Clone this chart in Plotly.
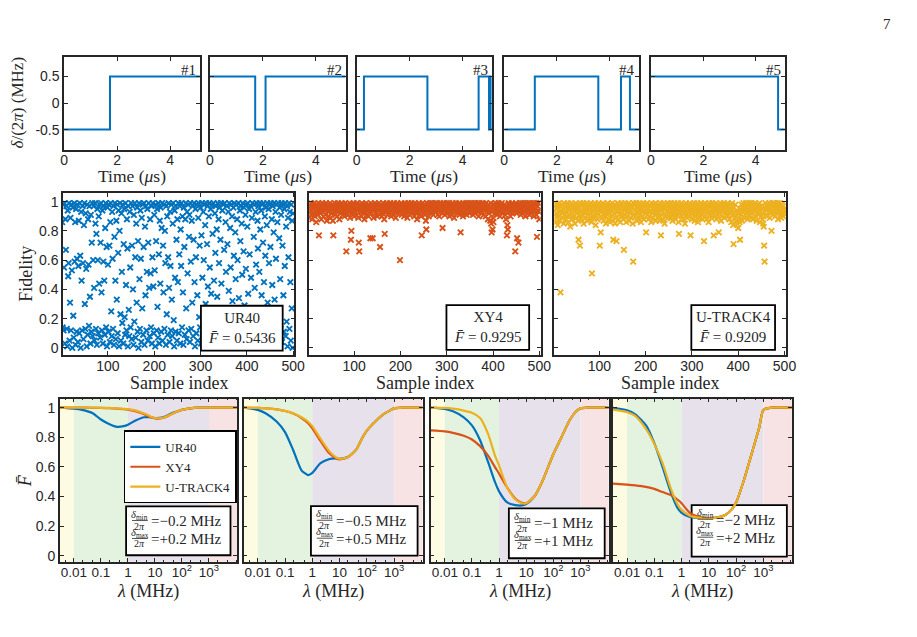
import math
import plotly.graph_objects as go

W, H = 917, 637
BLUE, ORANGE, YELLOW = "#0072BD", "#D95319", "#EDB120"
AX = "#262626"
SERIF = "Liberation Serif"
SANS = "Liberation Sans"

# ---------------- top row: detuning sequences ----------------
SEQ_T = [
    [0, 1.73, 5.12],
    [0, 1.71, 2.10, 5.12],
    [0, 0.28, 2.67, 4.60, 4.99, 5.02, 5.05, 5.12],
    [0, 1.16, 3.57, 4.43, 4.77, 5.12],
    [0, 4.86, 5.12],
]
SEQ_D = [
    [-0.5, 0.5, 0.5],
    [0.5, -0.5, 0.5, 0.5],
    [-0.5, 0.5, -0.5, 0.5, -0.5, 0.5, -0.5, -0.5],
    [-0.5, 0.5, -0.5, 0.5, -0.5, -0.5],
    [0.5, -0.5, -0.5],
]
SEQ_LABELS = ["#1", "#2", "#3", "#4", "#5"]

# ---------------- middle row: fidelity samples ----------------
F_UR40 = [
    .86,.14,.98,.12,.55,.99,.03,.88,.67,.97,.13,.01,.94,.49,.58,.99,.05,.31,.89,.12,.98,.53,.00,.96,.22,
    .07,.99,.59,.86,.02,.95,.11,.61,.98,.04,.56,.87,.10,.99,.63,.00,.93,.46,.12,.97,.58,.06,.84,.99,.30,
    .13,.92,.54,.01,.98,.09,.88,.57,.15,.97,.35,.03,.91,.11,.72,.99,.08,.60,.97,.41,.05,.99,.85,.13,.78,
    .02,.95,.60,.10,.90,.44,.98,.07,.72,.99,.38,.12,.94,.03,.59,.97,.46,.09,.82,.99,.14,.69,.01,.96,.57,
    .11,.98,.70,.04,.86,.99,.25,.08,.93,.61,.13,.97,.02,.76,.99,.46,.06,.87,.33,.98,.10,.65,.94,.01,.80,
    .99,.23,.05,.92,.52,.17,.98,.03,.71,.95,.21,.09,.99,.43,.12,.88,.68,.01,.97,.26,.08,.93,.55,.14,.99,
    .06,.70,.97,.40,.02,.91,.18,.99,.62,.07,.85,.31,.96,.11,.73,.00,.99,.47,.13,.94,.61,.04,.89,.27,.98,
    .09,.69,.99,.02,.83,.36,.97,.12,.52,.95,.05,.72,.99,.41,.08,.88,.51,.14,.97,.03,.62,.99,.42,.10,.91,
    .53,.01,.98,.73,.12,.95,.28,.07,.99,.64,.03,.87,.44,.96,.11,.82,.99,.05,.70,.38,.98,.13,.80,.58,.02,
    .97,.23,.90,.09,.62,.99,.41,.04,.93,.56,.12,.98,.33,.08,.85,.99,.19,.01,.94,.48,.11,.97,.74,.05,.88,
    .45,.99,.10,.64,.97,.03,.81,.56,.99,.14,.90,.38,.02,.96,.69,.09,.88,.99,.27,.06,.93,.51,.98,.12,.76,
    .91,.04,.99,.59,.13,.87,.31,.97,.08,.74,.99,.45,.01,.95,.62,.10,.98,.36,.05,.89,.99,.21,.70,.14,.96,
    .03,.77,.99,.48,.09,.93,.60,.98,.12,.84,.30,.99,.06,.71,.97,.42,.02,.90,.99,.55,.11,.95,.37,.07,.98,
    .78,.13,.99,.46,.04,.92,.65,.97,.10,.81,.35,.99,.01,.88,.58,.96,.08,.74,.99,.44,.12,.94,.27,.98,.05,
    .67,.99,.14,.86,.52,.03,.97,.71,.11,.93,.39,.99,.06,.82,.55,.98,.13,.90,.32,.02,.96,.63,.99,.09,.79,
    .47,.98,.04,.88,.60,.12,.99,.34,.07,.94,.73,.97,.01,.85,.50,.99,.10,.66,.96,.29,.05,.91,.54,.98,.13,
    .83,.99,.37,.08,.95,.64,.02,.97,.48,.11,.89,.99,.23,.06,.76,.98,.41,.13,.93,.57,.99,.04,.87,.68,.97,
    .10,.52,.99,.81,.03,.94,.36,.98,.12,.72,.99,.45,.07,.90,.63,.96,.01,.84,.99,.31,.11,.95,.58,.98,.05,
    .69,.99,.14,.88,.43,.97,.02,.79,.99,.33,.09,.93,.61,.98,.12,.86,.26,.99,.06,.75,.96,.47,.13,.91,.99,
    .04,.70,.98,.36,.11,.95,.56,.99,.08,.83,.18,.97,.01,.89,.62,.99,.13,.93,.45,.05,.98,.27,.87,.00,.92,
]
F_XY4 = [
    .95,.89,.98,.93,.97,.91,.99,.94,.88,.96,.98,.92,.95,.99,.90,.97,.94,.86,.98,.93,.96,.91,.99,.77,.95,
    .97,.92,.98,.88,.95,.99,.93,.96,.90,.98,.94,.97,.91,.99,.95,.87,.96,.98,.93,.90,.97,.94,.99,.89,.96,
    .92,.98,.95,.87,.77,.97,.93,.99,.91,.96,.94,.98,.90,.95,.99,.93,.97,.88,.96,.98,.92,.95,.99,.94,.91,
    .97,.93,.98,.90,.95,.99,.92,.66,.96,.94,.98,.91,.97,.93,.99,.89,.95,.74,.80,.96,.92,.98,.94,.99,.90,
    .95,.98,.93,.97,.91,.99,.94,.96,.89,.72,.66,.97,.93,.98,.95,.90,.99,.94,.96,.92,.98,.88,.95,.97,.93,
    .99,.91,.96,.94,.98,.90,.95,.97,.93,.75,.99,.92,.96,.98,.75,.94,.89,.97,.95,.99,.92,.96,.93,.98,.90,
    .97,.94,.99,.91,.96,.69,.93,.98,.95,.90,.97,.92,.99,.94,.88,.78,.96,.98,.93,.95,.99,.91,.97,.94,.98,
    .92,.96,.99,.94,.90,.97,.93,.98,.95,.91,.99,.96,.93,.97,.89,.98,.94,.99,.92,.96,.95,.98,.93,.60,.97,
    .94,.99,.91,.96,.98,.93,.97,.90,.95,.99,.92,.98,.94,.96,.89,.97,.99,.93,.95,.91,.98,.96,.94,.99,.92,
    .97,.93,.98,.95,.90,.99,.94,.96,.92,.98,.88,.95,.97,.93,.99,.91,.96,.94,.98,.90,.77,.95,.99,.93,.97,
    .94,.98,.91,.96,.87,.81,.99,.93,.97,.95,.90,.98,.94,.99,.92,.96,.97,.93,.99,.95,.91,.98,.94,.96,.99,
    .93,.97,.95,.99,.91,.96,.98,.94,.90,.97,.99,.93,.95,.98,.92,.82,.96,.99,.94,.97,.91,.98,.95,.93,.99,
    .96,.92,.98,.94,.99,.90,.97,.95,.93,.98,.91,.96,.99,.94,.97,.89,.95,.98,.93,.99,.96,.92,.97,.94,.98,
    .95,.99,.91,.96,.79,.93,.98,.94,.97,.90,.99,.95,.92,.98,.96,.94,.99,.91,.97,.93,.98,.95,.99,.92,.96,
    .98,.94,.97,.99,.93,.96,.91,.98,.95,.99,.92,.97,.94,.98,.96,.99,.93,.95,.90,.97,.99,.94,.98,.92,.96,
    .93,.97,.99,.95,.91,.98,.94,.96,.90,.99,.93,.97,.95,.88,.98,.92,.96,.94,.87,.99,.85,.79,.93,.81,.89,
    .86,.95,.98,.92,.97,.99,.94,.96,.91,.98,.93,.99,.95,.97,.90,.96,.98,.94,.99,.92,.97,.95,.93,.98,.96,
    .91,.97,.88,.94,.77,.84,.81,.96,.99,.93,.97,.95,.90,.98,.94,.99,.92,.96,.98,.93,.95,.97,.66,.94,.99,
    .92,.75,.97,.95,.72,.98,.93,.99,.96,.91,.97,.94,.99,.95,.92,.98,.96,.93,.99,.90,.97,.95,.98,.94,.99,
    .96,.93,.98,.91,.99,.95,.97,.92,.98,.94,.96,.99,.90,.97,.93,.98,.95,.99,.91,.76,.97,.94,.99,.93,.88,
]
F_UTRACK4 = [
    .94,.88,.97,.91,.99,.86,.95,.92,.98,.84,.96,.90,.99,.93,.87,.38,.97,.94,.89,.98,.92,.95,.85,.99,.91,
    .96,.93,.88,.98,.90,.95,.99,.86,.94,.97,.91,.83,.96,.99,.92,.88,.95,.97,.90,.93,.98,.85,.94,.99,.89,
    .95,.92,.98,.87,.74,.96,.90,.70,.99,.93,.88,.97,.94,.91,.99,.85,.96,.92,.98,.89,.95,.93,.99,.87,.96,
    .91,.98,.94,.88,.96,.99,.92,.86,.51,.97,.93,.89,.98,.95,.90,.99,.84,.96,.92,.97,.88,.94,.99,.91,.95,
    .70,.96,.79,.93,.98,.89,.95,.99,.87,.92,.97,.90,.94,.85,.98,.96,.91,.99,.93,.88,.95,.97,.86,.92,.98,
    .94,.90,.99,.87,.74,.96,.92,.98,.85,.95,.89,.73,.97,.93,.99,.88,.94,.91,.98,.86,.96,.92,.99,.90,.95,
    .97,.88,.67,.94,.99,.91,.96,.86,.93,.98,.90,.95,.99,.87,.94,.92,.97,.89,.98,.93,.96,.85,.59,.99,.91,
    .95,.98,.90,.93,.99,.87,.96,.92,.97,.89,.94,.99,.91,.95,.86,.98,.93,.96,.90,.99,.88,.94,.97,.92,.98,
    .79,.95,.99,.91,.96,.88,.93,.98,.90,.94,.97,.86,.99,.92,.95,.89,.98,.93,.96,.91,.99,.87,.94,.97,.92,
    .96,.90,.98,.93,.87,.95,.99,.77,.94,.91,.97,.88,.96,.99,.92,.85,.95,.98,.90,.93,.97,.89,.99,.94,.91,
    .98,.93,.96,.89,.99,.91,.95,.87,.97,.92,.94,.99,.90,.96,.88,.98,.93,.95,.91,.99,.86,.78,.94,.97,.92,
    .95,.99,.90,.93,.97,.88,.96,.92,.98,.85,.94,.99,.91,.96,.89,.97,.93,.98,.90,.95,.99,.77,.92,.96,.88,
    .94,.98,.91,.96,.99,.87,.93,.97,.90,.95,.99,.92,.86,.98,.94,.96,.89,.97,.93,.99,.91,.95,.88,.98,.93,
    .73,.96,.99,.90,.94,.97,.88,.95,.92,.98,.86,.96,.99,.91,.93,.97,.89,.95,.99,.92,.94,.77,.98,.90,.96,
    .93,.99,.88,.95,.97,.91,.96,.79,.98,.92,.94,.99,.87,.96,.90,.98,.93,.95,.99,.89,.97,.92,.94,.98,.91,
    .96,.99,.90,.93,.97,.88,.95,.92,.98,.86,.94,.99,.91,.84,.71,.96,.89,.93,.98,.87,.90,.94,.85,.92,.82,
    .88,.93,.86,.74,.95,.91,.98,.87,.96,.93,.99,.90,.94,.97,.89,.95,.99,.92,.96,.88,.98,.93,.95,.99,.91,
    .97,.94,.89,.99,.92,.96,.88,.98,.93,.95,.99,.90,.94,.97,.87,.96,.92,.98,.91,.95,.99,.86,.93,.97,.90,
    .95,.88,.92,.85,.83,.70,.59,.96,.99,.91,.94,.98,.90,.95,.97,.93,.99,.89,.96,.92,.98,.80,.94,.99,.91,
    .97,.93,.99,.95,.90,.98,.94,.96,.92,.99,.88,.97,.93,.95,.99,.91,.96,.89,.98,.94,.92,.97,.90,.95,.93,
]
SAMPLE_IDX = list(range(1, 501))
MID_NAMES = ["UR40", "XY4", "U-TRACK4"]
MID_MEANS = ["0.5436", "0.9295", "0.9209"]

# ---------------- bottom row: mean fidelity vs lambda ----------------
LAM = [0.003, 0.01, 0.02, 0.05, 0.1, 0.2, 0.4, 0.7, 1, 2, 4, 7, 10, 20, 40, 70,
       100, 200, 400, 700, 1000, 2000, 11000]
DELTA = ["0.2", "0.5", "1", "2"]
FB_UR40 = [
    [1.0, .993, .985, .962, .92, .89, .87, .875, .885, .915, .935, .935, .93, .935, .96, .975, .985, .995, 1, 1, 1, 1, 1],
    [1.0, .985, .96, .905, .835, .712, .577, .545, .56, .625, .652, .657, .655, .667, .715, .80, .845, .905, .955, .98, .995, 1, 1],
    [1.0, .992, .975, .935, .88, .78, .63, .50, .435, .36, .342, .34, .35, .40, .505, .615, .685, .80, .915, .975, .995, 1, 1],
    [.998, .982, .955, .88, .76, .60, .43, .325, .29, .262, .256, .255, .255, .258, .275, .315, .36, .52, .71, .865, .985, 1, 1],
]
FB_XY4 = [
    [1.0, 1.0, 1.0, .999, .998, .996, .993, .99, .986, .975, .955, .935, .927, .93, .955, .975, .985, .995, 1, 1, 1, 1, 1],
    [1.0, .998, .995, .988, .977, .96, .93, .895, .86, .775, .695, .662, .65, .665, .715, .80, .845, .905, .955, .98, .995, 1, 1],
    [.847, .84, .83, .81, .785, .74, .675, .60, .555, .46, .385, .357, .355, .40, .505, .615, .685, .80, .915, .975, .995, 1, 1],
    [.487, .48, .475, .465, .452, .43, .41, .38, .355, .29, .265, .257, .255, .258, .275, .315, .36, .52, .71, .865, .985, 1, 1],
]
FB_UTRACK4 = [
    [1.0, 1.0, 1.0, 1.0, .999, .998, .995, .992, .99, .98, .96, .94, .93, .932, .955, .975, .985, .995, 1, 1, 1, 1, 1],
    [1.0, .998, .995, .988, .978, .962, .935, .905, .875, .79, .71, .668, .655, .665, .715, .80, .845, .905, .955, .98, .995, 1, 1],
    [1.0, .998, .993, .98, .965, .93, .82, .68, .61, .46, .38, .355, .355, .40, .505, .615, .685, .80, .915, .975, .995, 1, 1],
    [.987, .97, .945, .855, .755, .625, .455, .35, .31, .27, .258, .255, .255, .258, .275, .315, .36, .52, .71, .865, .985, 1, 1],
]
LAM_TICKS = [0.01, 0.1, 1, 10, 100, 1000]
LAM_TICKTEXT = ["0.01", "0.1", "1", "10", "10<sup>2</sup>", "10<sup>3</sup>"]
LOG_RANGE = [-2.52, 4.04]
BAND_EDGES = [0.01, 1, 1000]
BAND_COLORS = ["#FDFCE2", "#E3F3DF", "#E6E1EB", "#F7E3E3"]

# ---------------- layout geometry (pixels) ----------------
TOP_X = [(61, 199), (209, 347), (358, 496), (508, 645), (657, 793)]
TOP_Y = (57, 150)
MID_X = [(60, 295), (310, 545), (559, 794)]
MID_Y = (194, 356)
BOT_X = [(56.7, 236.7), (243.3, 425), (433.3, 614), (618.3, 800)]
BOT_Y = (400, 563.5)
MID_BOX = [(200, 306.7, 283, 351.7), (449.3, 306, 533.3, 351), (698, 306, 783, 351)]
BOT_BOX = [(124, 508, 230, 557), (311.7, 507.7, 420, 557.3), (512.7, 510, 610, 560), (698.3, 506.7, 795, 558.3)]


def px(x):
    return x / W


def py(y):
    return 1 - y / H


def xd(a, b):
    return [a / W, b / W]


def yd(top, bot):
    return [1 - bot / H, 1 - top / H]


fig = go.Figure()
layout = {}
annotations = []
shapes = []

base_axis = dict(showline=True, mirror="ticks", linecolor=AX, linewidth=1.5,
                 ticks="inside", ticklen=4, tickwidth=1, tickcolor=AX,
                 showgrid=False, zeroline=False,
                 tickfont=dict(family=SANS, size=14, color=AX))


def axname(i):
    return "" if i == 1 else str(i)


def title_ann(text, x, y, size=18, angle=0):
    annotations.append(dict(text=text, x=px(x), y=py(y), xref="paper", yref="paper",
                            showarrow=False, textangle=angle,
                            font=dict(family=SERIF, size=size, color=AX),
                            xanchor="center", yanchor="middle"))


n = 0
# top row
for k in range(5):
    n += 1
    a = axname(n)
    fig.add_trace(go.Scatter(x=SEQ_T[k], y=SEQ_D[k], mode="lines",
                             line=dict(color=BLUE, width=2, shape="hv"),
                             xaxis="x" + a, yaxis="y" + a, showlegend=False))
    layout["xaxis" + a] = dict(base_axis, domain=xd(*TOP_X[k]), anchor="y" + a,
                               range=[0, 5.12], tickvals=[0, 2, 4], ticklabelstandoff=-3)
    layout["yaxis" + a] = dict(base_axis, domain=yd(*TOP_Y), anchor="x" + a,
                               range=[-0.875, 0.87], tickvals=[-0.5, 0, 0.5],
                               ticktext=["-0.5", "0", "0.5"], showticklabels=(k == 0))
    annotations.append(dict(text=SEQ_LABELS[k], x=0.985, y=0.965,
                            xref="x" + a + " domain", yref="y" + a + " domain",
                            xanchor="right", yanchor="top", showarrow=False,
                            font=dict(family=SERIF, size=15, color=AX)))
    title_ann("Time (<i>μ</i>s)", (TOP_X[k][0] + TOP_X[k][1]) / 2, 177, size=17.5)
title_ann("<i>δ</i>/(2<i>π</i>) (MHz)", 14, 103, size=17, angle=-90)

# middle row
mid_data = [F_UR40, F_XY4, F_UTRACK4]
mid_cols = [BLUE, ORANGE, YELLOW]
for k in range(3):
    n += 1
    a = axname(n)
    fig.add_trace(go.Scatter(x=SAMPLE_IDX, y=mid_data[k], mode="markers",
                             marker=dict(symbol="x-thin", size=5.5, color=mid_cols[k],
                                         line=dict(width=1.9, color=mid_cols[k])),
                             xaxis="x" + a, yaxis="y" + a, showlegend=False))
    layout["xaxis" + a] = dict(base_axis, domain=xd(*MID_X[k]), anchor="y" + a,
                               range=[3, 503], tickvals=[100, 200, 300, 400, 500],
                               ticklabelstandoff=-2)
    layout["yaxis" + a] = dict(base_axis, domain=yd(*MID_Y), anchor="x" + a,
                               range=[-0.048, 1.057], tickvals=[0, 0.2, 0.4, 0.6, 0.8, 1],
                               ticktext=["0", "0.2", "0.4", "0.6", "0.8", "1"],
                               showticklabels=(k == 0))
    bx0, by0, bx1, by1 = MID_BOX[k]
    shapes.append(dict(type="rect", xref="paper", yref="paper", x0=px(bx0), x1=px(bx1),
                       y0=py(by1), y1=py(by0), fillcolor="white",
                       line=dict(color="black", width=1.8), layer="above"))
    annotations.append(dict(text=MID_NAMES[k] + "<br><i>F\u0304</i> = " + MID_MEANS[k],
                            x=px((bx0 + bx1) / 2), y=py((by0 + by1) / 2), xref="paper", yref="paper",
                            showarrow=False, align="center", xanchor="center", yanchor="middle",
                            font=dict(family=SERIF, size=15, color=AX)))
    title_ann("Sample index", (MID_X[k][0] + MID_X[k][1]) / 2, 384)
title_ann("Fidelity", 22, 275, size=18, angle=-90)

# bottom row
bot_sets = [(FB_UR40, BLUE, "UR40"), (FB_XY4, ORANGE, "XY4"), (FB_UTRACK4, YELLOW, "U-TRACK4")]
span = LOG_RANGE[1] - LOG_RANGE[0]
for k in range(4):
    n += 1
    a = axname(n)
    for data, col, name in bot_sets:
        fig.add_trace(go.Scatter(x=LAM, y=data[k], mode="lines", name=name,
                                 line=dict(color=col, width=2.2, shape="spline", smoothing=0.6),
                                 xaxis="x" + a, yaxis="y" + a, showlegend=(k == 0)))
    layout["xaxis" + a] = dict(base_axis, domain=xd(*BOT_X[k]), anchor="y" + a, type="log",
                               range=LOG_RANGE, tickvals=LAM_TICKS, ticktext=LAM_TICKTEXT,
                               minor=dict(ticks="inside", ticklen=2, tickcolor=AX, showgrid=False),
                               tickfont=dict(family=SANS, size=13.5, color=AX),
                               ticklabelstandoff=-3)
    layout["yaxis" + a] = dict(base_axis, domain=yd(*BOT_Y), anchor="x" + a,
                               range=[-0.04, 1.06], tickvals=[0, 0.2, 0.4, 0.6, 0.8, 1],
                               ticktext=["0", "0.2", "0.4", "0.6", "0.8", "1"],
                               showticklabels=(k == 0))
    edges = [0.0] + [(math.log10(e) - LOG_RANGE[0]) / span for e in BAND_EDGES] + [1.0]
    for b in range(4):
        shapes.append(dict(type="rect", xref="x" + a + " domain", yref="y" + a + " domain",
                           x0=edges[b], x1=edges[b + 1], y0=0, y1=1,
                           fillcolor=BAND_COLORS[b], line=dict(width=0), layer="below"))
    bx0, by0, bx1, by1 = BOT_BOX[k]
    shapes.append(dict(type="rect", xref="paper", yref="paper", x0=px(bx0), x1=px(bx1),
                       y0=py(by1), y1=py(by0), fillcolor="white",
                       line=dict(color="black", width=1.8), layer="below"))
    for r, (sub, sign) in enumerate([("min", "−"), ("max", "+")]):
        ey = by0 + 14.7 + 18 * r
        fx = bx0 + 14
        annotations.append(dict(text="<i>δ</i><sub>" + sub + "</sub>", x=px(fx), y=py(ey - 6),
                                xref="paper", yref="paper", showarrow=False,
                                xanchor="center", yanchor="middle",
                                font=dict(family=SERIF, size=10.5, color=AX)))
        annotations.append(dict(text="2<i>π</i>", x=px(fx), y=py(ey + 5),
                                xref="paper", yref="paper", showarrow=False,
                                xanchor="center", yanchor="middle",
                                font=dict(family=SERIF, size=10, color=AX)))
        shapes.append(dict(type="line", xref="paper", yref="paper", x0=px(fx - 8), x1=px(fx + 8),
                           y0=py(ey - 0.5), y1=py(ey - 0.5), line=dict(color=AX, width=0.8), layer="above"))
        annotations.append(dict(text="=" + sign + DELTA[k] + " MHz", x=px(fx + 9), y=py(ey),
                                xref="paper", yref="paper", showarrow=False,
                                xanchor="left", yanchor="middle",
                                font=dict(family=SERIF, size=15, color=AX)))
    title_ann("<i>λ</i> (MHz)", (BOT_X[k][0] + BOT_X[k][1]) / 2, 593)
title_ann("<i>F\u0304</i>", 22, 482, size=18, angle=-90)

annotations.append(dict(text="7", x=px(903), y=py(14), xref="paper", yref="paper",
                        showarrow=False, font=dict(family=SERIF, size=15, color=AX)))

fig.update_layout(
    width=W, height=H, margin=dict(l=0, r=0, t=0, b=0),
    paper_bgcolor="white", plot_bgcolor="white",
    annotations=annotations, shapes=shapes,
    legend=dict(x=px(121.7), y=py(505), xanchor="left", yanchor="bottom",
                bgcolor="white", bordercolor="black", borderwidth=1.5,
                font=dict(family=SERIF, size=13, color=AX),
                tracegroupgap=0, itemwidth=30, traceorder="normal"),
    **layout,
)
fig.write_html("out.html")
